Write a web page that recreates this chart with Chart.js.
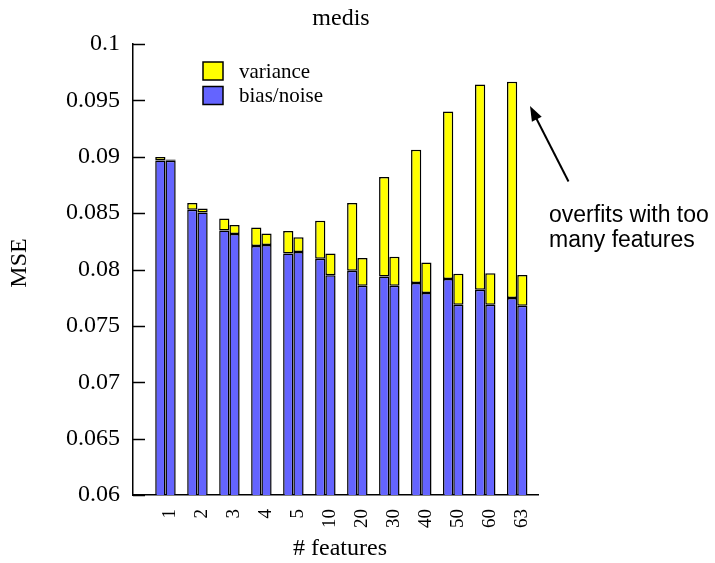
<!DOCTYPE html>
<html>
<head>
<meta charset="utf-8">
<script src="https://cdn.jsdelivr.net/npm/chart.js@4/dist/chart.umd.min.js"></script>
<style>
  html, body { margin: 0; padding: 0; background: #fff; }
  #wrap { width: 715px; height: 563px; }
</style>
</head>
<body>
<div id="wrap"><canvas id="c" width="715" height="563"></canvas></div>
<script>
// Number of features used by each model
const featureCounts = ['1', '2', '3', '4', '5', '10', '20', '30', '40', '50', '60', '63'];

// Left bar of each pair
const biasA     = [0.08967, 0.08530, 0.08347, 0.08208, 0.08143, 0.08096, 0.07989, 0.07939, 0.07880, 0.07916, 0.07821, 0.07747];
const varianceA = [0.00030, 0.00060, 0.00106, 0.00165, 0.00198, 0.00337, 0.00601, 0.00881, 0.01182, 0.01486, 0.01820, 0.01918];

// Right bar of each pair
const biasB     = [0.08964, 0.08506, 0.08315, 0.08217, 0.08155, 0.07948, 0.07856, 0.07856, 0.07792, 0.07688, 0.07688, 0.07679];
const varianceB = [0.00012, 0.00036, 0.00079, 0.00103, 0.00130, 0.00195, 0.00246, 0.00257, 0.00271, 0.00275, 0.00278, 0.00272];

// MSE axis ticks
const yTicks = [0.06, 0.065, 0.07, 0.075, 0.08, 0.085, 0.09, 0.095, 0.1];

const BLUE = '#6464ff';
const YELLOW = '#ffff00';
const SERIF = '"Liberation Serif", "Times New Roman", serif';
const SANS = '"Liberation Sans", Arial, sans-serif';

const pts = arr => arr.map((v, i) => ({ x: i, y: v }));

const barStyle = {
  borderColor: '#000',
  borderWidth: 1.5,
  borderSkipped: false,
  barPercentage: 1.0,
  categoryPercentage: 0.64
};

// Inward tick marks, legend, titles and the annotation arrow
const decorations = {
  id: 'decorations',
  afterDraw(chart) {
    const ctx = chart.ctx;
    const area = chart.chartArea;
    const yScale = chart.scales.y;
    ctx.save();

    // inward y ticks
    ctx.strokeStyle = '#000';
    ctx.lineWidth = 1.5;
    yTicks.forEach(v => {
      const py = Math.round(yScale.getPixelForValue(v)) + 0.5;
      ctx.beginPath();
      ctx.moveTo(area.left, py);
      ctx.lineTo(area.left + 12, py);
      ctx.stroke();
    });

    // title
    ctx.fillStyle = '#000';
    ctx.font = '24px ' + SERIF;
    ctx.textAlign = 'center';
    ctx.textBaseline = 'alphabetic';
    ctx.fillText('medis', 341, 25);

    // x axis title
    ctx.fillText('# features', 340, 555);

    // y axis title
    ctx.save();
    ctx.translate(26, 263);
    ctx.rotate(-Math.PI / 2);
    ctx.fillText('MSE', 0, 0);
    ctx.restore();

    // legend
    const legend = [
      { label: 'variance', color: YELLOW, y: 62 },
      { label: 'bias/noise', color: BLUE, y: 86.5 }
    ];
    ctx.font = '21px ' + SERIF;
    ctx.textAlign = 'left';
    legend.forEach(item => {
      ctx.fillStyle = item.color;
      ctx.fillRect(203, item.y, 20, 18);
      ctx.strokeStyle = '#000';
      ctx.lineWidth = 1.5;
      ctx.strokeRect(203, item.y, 20, 18);
      ctx.fillStyle = '#000';
      ctx.fillText(item.label, 239, item.y + 15.5);
    });

    // annotation arrow
    const x0 = 568.5, y0 = 181.5, x1 = 530, y1 = 106;
    const ang = Math.atan2(y1 - y0, x1 - x0);
    const headLen = 15, headW = 5.5;
    ctx.strokeStyle = '#000';
    ctx.lineWidth = 2;
    ctx.beginPath();
    ctx.moveTo(x0, y0);
    ctx.lineTo(x1 - Math.cos(ang) * headLen * 0.8, y1 - Math.sin(ang) * headLen * 0.8);
    ctx.stroke();
    const bx = x1 - Math.cos(ang) * headLen, by = y1 - Math.sin(ang) * headLen;
    ctx.beginPath();
    ctx.moveTo(x1, y1);
    ctx.lineTo(bx + Math.sin(ang) * headW, by - Math.cos(ang) * headW);
    ctx.lineTo(bx - Math.sin(ang) * headW, by + Math.cos(ang) * headW);
    ctx.closePath();
    ctx.fillStyle = '#000';
    ctx.fill();

    ctx.font = '23px ' + SANS;
    ctx.textAlign = 'left';
    ctx.fillText('overfits with too', 549, 222);
    ctx.fillText('many features', 549, 247);

    ctx.restore();
  }
};

new Chart(document.getElementById('c'), {
  type: 'bar',
  data: {
    datasets: [
      { label: 'bias/noise', data: pts(biasA), backgroundColor: BLUE, stack: 'a', ...barStyle },
      { label: 'variance', data: pts(varianceA), backgroundColor: YELLOW, stack: 'a', ...barStyle },
      { label: 'bias/noise', data: pts(biasB), backgroundColor: BLUE, stack: 'b', ...barStyle },
      { label: 'variance', data: pts(varianceB), backgroundColor: YELLOW, stack: 'b', ...barStyle }
    ]
  },
  options: {
    responsive: false,
    animation: false,
    layout: { padding: { left: 0, top: 44, right: 177, bottom: 0 } },
    plugins: {
      legend: { display: false },
      title: { display: false },
      tooltip: { enabled: false }
    },
    scales: {
      x: {
        type: 'linear',
        stacked: true,
        offset: false,
        min: -1.015,
        max: 11.65,
        afterBuildTicks: scale => { scale.ticks = featureCounts.map((_, i) => ({ value: i })); },
        afterFit: scale => { scale.height = 68; },
        grid: { display: false, drawTicks: false, offset: false },
        border: { display: true, color: '#000', width: 1.5 },
        ticks: {
          autoSkip: false,
          minRotation: 90,
          maxRotation: 90,
          padding: 14,
          labelOffset: 5,
          color: '#000',
          font: { family: SERIF, size: 19 },
          callback: v => featureCounts[v]
        }
      },
      y: {
        type: 'linear',
        stacked: true,
        min: 0.06,
        max: 0.1,
        afterBuildTicks: scale => { scale.ticks = yTicks.map(v => ({ value: v })); },
        afterFit: scale => { scale.width = 133; },
        grid: { display: false, drawTicks: false },
        border: { display: true, color: '#000', width: 1.5 },
        ticks: {
          padding: 13,
          color: '#000',
          font: { family: SERIF, size: 24 },
          callback: v => String(Number(v.toFixed(3)))
        }
      }
    }
  },
  plugins: [decorations]
});
</script>
</body>
</html>
